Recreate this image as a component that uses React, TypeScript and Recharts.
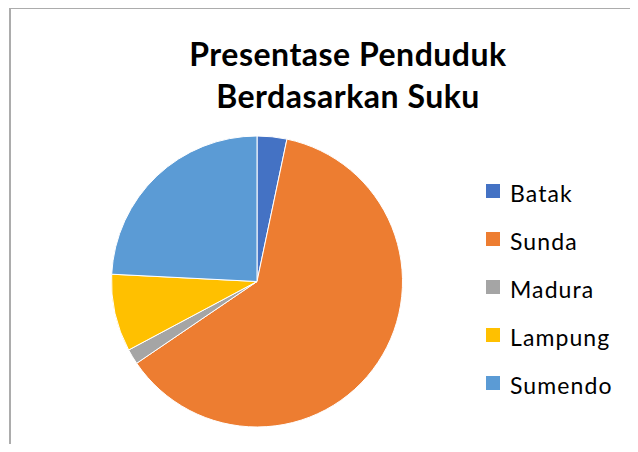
import React from "react";
import { PieChart, Pie, Cell, Legend } from "recharts";

const categories = ["Batak", "Sunda", "Madura", "Lampung", "Sumendo"];
const values = [3.3, 62.2, 1.7, 8.6, 24.2];
const colors = ["#4472C4", "#ED7D31", "#A5A5A5", "#FFC000", "#5B9BD5"];
const titleLines = ["Presentase Penduduk", "Berdasarkan Suku"];

const data = categories.map((name, i) => ({ name, value: values[i] }));

const renderLegend = () => {
  return (
    <div style={{ fontFamily: "Lato, sans-serif", fontSize: 23, letterSpacing: 1.1, color: "#000" }}>
      {categories.map((name, i) => (
        <div key={name} style={{ display: "flex", alignItems: "center", height: 48 }}>
          <span style={{ display: "inline-block", width: 14, height: 14, background: colors[i], marginRight: 10, flex: "none" }} />
          <span style={{ position: "relative", top: 2 }}>{name}</span>
        </div>
      ))}
    </div>
  );
};

export default function App() {
  return (
    <div style={{ position: "relative", width: 630, height: 436 }}>
      <div
        style={{
          position: "absolute",
          left: 1,
          top: -1,
          width: 629,
          height: 2,
          background: "#acacac",
          zIndex: 5,
        }}
      />
      <div
        style={{
          position: "absolute",
          left: 1,
          top: -1,
          width: 2,
          height: 445,
          background: "#acacac",
          zIndex: 5,
        }}
      />
      <div
        style={{
          position: "absolute",
          left: 140,
          width: 400,
          top: 25,
          textAlign: "center",
          fontFamily: "Lato, sans-serif",
          fontWeight: 700,
          fontSize: 32,
          letterSpacing: 0.5,
          lineHeight: "42px",
          color: "#000",
        }}
      >
        {titleLines.map((t, i) => (
          <div key={i}>{t}</div>
        ))}
      </div>
      <PieChart width={630} height={436} margin={{ top: 0, right: 0, bottom: 0, left: 0 }}>
        <Pie
          data={data}
          dataKey="value"
          nameKey="name"
          cx={249}
          cy={273.5}
          outerRadius={145.5}
          startAngle={90}
          endAngle={-270}
          stroke="#ffffff"
          strokeWidth={1}
          isAnimationActive={false}
        >
          {data.map((d, i) => (
            <Cell key={d.name} fill={colors[i]} />
          ))}
        </Pie>
        <Legend
          layout="vertical"
          content={renderLegend}
          wrapperStyle={{ left: 478, top: 158.5, width: 150 }}
        />
      </PieChart>
    </div>
  );
}
